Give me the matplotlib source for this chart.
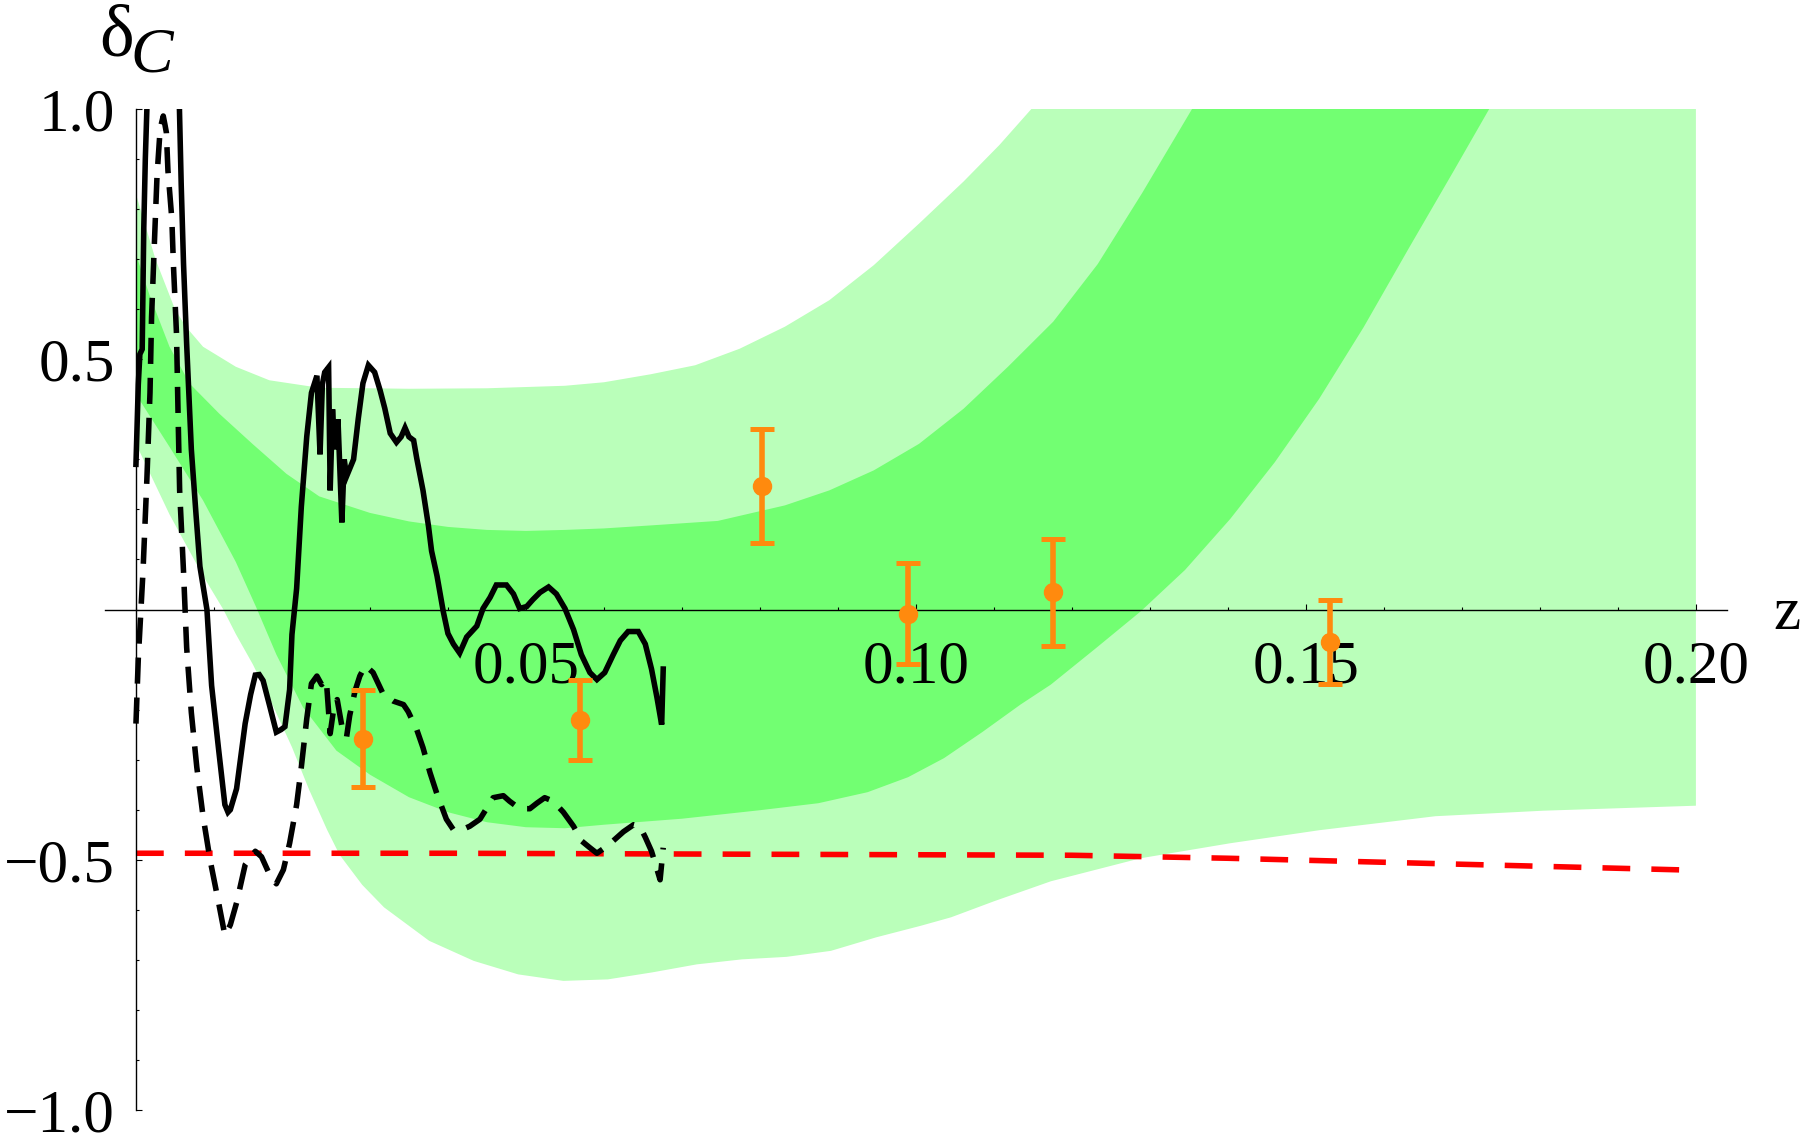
import matplotlib
matplotlib.use('Agg')
from matplotlib import pyplot as plt
from matplotlib.ticker import FixedLocator, FixedFormatter, MultipleLocator
import numpy as np

plt.rcParams['font.family'] = ['Liberation Serif', 'DejaVu Serif']

# confidence bands: each edge has its own z samples
z_outer_up = [0.0, 0.0025, 0.005, 0.0064, 0.0086, 0.0128, 0.0171, 0.0235, 0.03, 0.035,
              0.045, 0.055, 0.06, 0.066, 0.0717, 0.0774, 0.0832, 0.0889, 0.0946, 0.1004,
              0.1061, 0.1107, 0.1148, 0.2]
outer_up = [0.83, 0.70, 0.60, 0.565, 0.525, 0.485, 0.458, 0.443, 0.442, 0.441,
            0.442, 0.447, 0.454, 0.47, 0.488, 0.521, 0.565, 0.618, 0.688, 0.771,
            0.855, 0.928, 1.0, 1.0]

z_outer_lo = [0.0, 0.0043, 0.0085, 0.0112, 0.0128, 0.015, 0.0175, 0.02, 0.0222, 0.0245,
              0.0261, 0.029, 0.0318, 0.0376, 0.0433, 0.049, 0.0548, 0.0605, 0.0662, 0.0719,
              0.0777, 0.0834, 0.0891, 0.0949, 0.1006, 0.1045, 0.11, 0.1173, 0.1288, 0.1403,
              0.1517, 0.1666, 0.1804, 0.2]
outer_lo = [0.331, 0.19, 0.07, 0.0, -0.049, -0.11, -0.19, -0.275, -0.36, -0.44,
            -0.49, -0.55, -0.595, -0.662, -0.702, -0.729, -0.742, -0.739, -0.725, -0.709,
            -0.699, -0.694, -0.682, -0.655, -0.632, -0.615, -0.583, -0.543, -0.497, -0.467,
            -0.441, -0.413, -0.402, -0.392]

z_inner_up = [0.0, 0.0017, 0.0043, 0.0069, 0.0107, 0.015, 0.0193, 0.0235, 0.03, 0.035,
              0.04, 0.045, 0.05, 0.055, 0.06, 0.066, 0.0746, 0.0832, 0.0889, 0.0946,
              0.1004, 0.1061, 0.1118, 0.1176, 0.1233, 0.129, 0.1354]
inner_up = [0.71, 0.63, 0.525, 0.451, 0.391, 0.33, 0.271, 0.226, 0.193, 0.176,
            0.165, 0.159, 0.157, 0.159, 0.162, 0.168, 0.177, 0.208, 0.238, 0.278,
            0.331, 0.401, 0.485, 0.575, 0.69, 0.832, 1.0]

z_inner_lo = [0.0, 0.0043, 0.0086, 0.0128, 0.0154, 0.018, 0.0214, 0.0257, 0.03, 0.035,
              0.04, 0.045, 0.05, 0.055, 0.06, 0.07, 0.08, 0.0875, 0.0938, 0.099,
              0.1036, 0.1085, 0.1134, 0.1173, 0.1231, 0.1288, 0.1345, 0.1403, 0.146, 0.1517,
              0.1574, 0.1632, 0.1689, 0.1735]
inner_lo = [0.43, 0.325, 0.218, 0.095, 0.005, -0.09, -0.195, -0.282, -0.33, -0.375,
            -0.405, -0.425, -0.435, -0.437, -0.43, -0.418, -0.401, -0.387, -0.365, -0.335,
            -0.297, -0.245, -0.19, -0.15, -0.077, -0.004, 0.079, 0.181, 0.294, 0.421,
            0.564, 0.722, 0.875, 1.0]

# solid black curve
z_solid = [0.0, 0.0003, 0.0005, 0.0008, 0.0010, 0.0012, 0.0015, 0.0055, 0.0058, 0.0061,
           0.0065, 0.0071, 0.0077, 0.0082, 0.0091, 0.0097, 0.0106, 0.0114, 0.0118, 0.0121,
           0.0129, 0.0140, 0.0147, 0.0153, 0.0158, 0.0163, 0.0172, 0.0180, 0.0186, 0.0191,
           0.0197, 0.0200, 0.0206, 0.0212, 0.0219, 0.0225, 0.0232, 0.0236, 0.0239, 0.0242,
           0.0247, 0.0249, 0.0252, 0.0255, 0.0259, 0.0264, 0.0267, 0.0270, 0.0279, 0.0285,
           0.0291, 0.0298, 0.0306, 0.0313, 0.0319, 0.0326, 0.0334, 0.0340, 0.0345, 0.0350,
           0.0356, 0.0360, 0.0368, 0.0375, 0.0379, 0.0386, 0.0394, 0.0400, 0.0407, 0.0415,
           0.0424, 0.0437, 0.0445, 0.0454, 0.0462, 0.0475, 0.0484, 0.0492, 0.0501, 0.0509,
           0.0518, 0.0529, 0.0539, 0.0550, 0.0561, 0.0571, 0.0582, 0.0591, 0.0601, 0.0612,
           0.0621, 0.0631, 0.0644, 0.0653, 0.0661, 0.0668, 0.0674, 0.0676]
d_solid = [0.29, 0.45, 0.51, 0.52, 0.76, 0.90, 1.05, 1.05, 0.85, 0.69,
           0.53, 0.32, 0.19, 0.086, 0.0, -0.152, -0.28, -0.39, -0.405, -0.40,
           -0.358, -0.228, -0.17, -0.131, -0.13, -0.142, -0.196, -0.245, -0.24, -0.234,
           -0.16, -0.05, 0.042, 0.205, 0.346, 0.433, 0.467, 0.31, 0.45, 0.474,
           0.484, 0.238, 0.40, 0.32, 0.38, 0.174, 0.30, 0.266, 0.30, 0.381,
           0.452, 0.488, 0.474, 0.438, 0.402, 0.352, 0.334, 0.345, 0.363, 0.345,
           0.338, 0.302, 0.238, 0.167, 0.117, 0.067, -0.004, -0.048, -0.069, -0.087,
           -0.055, -0.033, 0.002, 0.024, 0.049, 0.049, 0.031, 0.002, 0.006, 0.02,
           0.034, 0.045, 0.031, 0.002, -0.04, -0.09, -0.126, -0.14, -0.126, -0.09,
           -0.062, -0.044, -0.044, -0.069, -0.119, -0.176, -0.23, -0.119]

# dashed black curve
z_dash = [0.0, 0.0003, 0.0009, 0.0014, 0.0018, 0.0020, 0.0024, 0.0027, 0.0031, 0.0035,
          0.0037, 0.0039, 0.0041, 0.0046, 0.0048, 0.0052, 0.0054, 0.0056, 0.0061, 0.0065,
          0.0071, 0.0078, 0.0086, 0.0095, 0.0106, 0.0114, 0.0121, 0.0129, 0.0140, 0.0153,
          0.0161, 0.0172, 0.0180, 0.0189, 0.0197, 0.0206, 0.0212, 0.0219, 0.0225, 0.0232,
          0.0238, 0.0244, 0.0249, 0.0253, 0.0258, 0.0264, 0.0270, 0.0274, 0.0281, 0.0287,
          0.0294, 0.0304, 0.0317, 0.0330, 0.0343, 0.0349, 0.0360, 0.0368, 0.0377, 0.0386,
          0.0398, 0.0407, 0.0418, 0.0428, 0.0441, 0.0458, 0.0471, 0.0479, 0.0492, 0.0505,
          0.0514, 0.0524, 0.0535, 0.0548, 0.0561, 0.0571, 0.0582, 0.0591, 0.0601, 0.0612,
          0.0625, 0.0638, 0.0646, 0.0653, 0.0661, 0.0668, 0.0672, 0.0676]
d_dash = [-0.228, -0.098, 0.075, 0.26, 0.433, 0.584, 0.747, 0.866, 0.96, 0.986,
          0.97, 0.953, 0.877, 0.78, 0.69, 0.55, 0.39, 0.238, 0.075, -0.076,
          -0.206, -0.315, -0.413, -0.50, -0.586, -0.651, -0.63, -0.586, -0.51, -0.483,
          -0.494, -0.532, -0.548, -0.52, -0.467, -0.39, -0.315, -0.218, -0.148, -0.133,
          -0.15, -0.14, -0.248, -0.204, -0.18, -0.233, -0.255, -0.212, -0.162, -0.133,
          -0.112, -0.126, -0.169, -0.183, -0.19, -0.204, -0.24, -0.276, -0.326, -0.369,
          -0.419, -0.44, -0.44, -0.433, -0.419, -0.376, -0.372, -0.383, -0.398, -0.398,
          -0.387, -0.376, -0.383, -0.405, -0.433, -0.462, -0.476, -0.487, -0.476, -0.462,
          -0.444, -0.43, -0.433, -0.455, -0.483, -0.519, -0.54, -0.476]

# red dashed reference curve
z_red = [0.0, 0.02, 0.04, 0.06, 0.08, 0.1, 0.12, 0.14, 0.16, 0.18, 0.2]
d_red = [-0.487, -0.487, -0.487, -0.488, -0.489, -0.490, -0.491, -0.497, -0.505, -0.513, -0.521]

# data points with error bars
z_pts = [0.0291, 0.0569, 0.0803, 0.0990, 0.1176, 0.1531]
d_pts = [-0.258, -0.221, 0.246, -0.008, 0.034, -0.065]
d_err = [0.097, 0.080, 0.114, 0.100, 0.107, 0.083]

light_green = '#BAFFBA'
dark_green = '#72FF72'
orange = '#FF8A0E'

fig = plt.figure(figsize=(18, 11.46), dpi=100)
ax = fig.add_axes([0.0582, 0.0314, 0.9013, 0.8735])

ax.fill(z_outer_up + z_outer_lo[::-1], outer_up + outer_lo[::-1],
        color=light_green, lw=0, zorder=1)
ax.fill(z_inner_up + z_inner_lo[::-1], inner_up + inner_lo[::-1],
        color=dark_green, lw=0, zorder=1.1)

ax.plot(z_red, d_red, color='#FF0000', lw=4, dashes=(5.0, 3.8), zorder=2)
ax.plot(z_solid, d_solid, color='black', lw=4, solid_joinstyle='miter', zorder=3)
ax.plot(z_dash, d_dash, color='black', lw=4, dashes=(4.7, 2.5), zorder=3)
ax.errorbar(z_pts, d_pts, yerr=d_err, fmt='o', color=orange, ms=13,
            elinewidth=4, capsize=8.6, capthick=3.6, zorder=4)

ax.set_xlim(-0.004, 0.204)
ax.set_ylim(-1, 1)

for side in ['top', 'right']:
    ax.spines[side].set_visible(False)
ax.spines['left'].set_position(('data', 0))
ax.spines['bottom'].set_position(('data', 0))
ax.spines['left'].set_linewidth(1.0)
ax.spines['bottom'].set_linewidth(1.0)

ax.xaxis.set_major_locator(FixedLocator([0.05, 0.1, 0.15, 0.2]))
ax.xaxis.set_major_formatter(FixedFormatter(['0.05', '0.10', '0.15', '0.20']))
ax.xaxis.set_minor_locator(MultipleLocator(0.01))
ax.yaxis.set_major_locator(FixedLocator([-1.0, -0.5, 0.5, 1.0]))
ax.yaxis.set_major_formatter(FixedFormatter(['\u22121.0', '\u22120.5', '0.5', '1.0']))
ax.yaxis.set_minor_locator(MultipleLocator(0.1))

ax.tick_params(which='both', direction='in', width=0.8, labelsize=44)
ax.tick_params(which='major', length=4.5)
ax.tick_params(which='minor', length=2.2)
ax.tick_params(axis='x', pad=22)
ax.tick_params(axis='y', pad=15)

fig.text(99 / 1800, 1 - 55.5 / 1146, '\u03b4', fontsize=53, va='baseline', ha='left')
fig.text(130 / 1800, 1 - 71 / 1146, 'C', fontsize=46, style='italic', va='baseline', ha='left')
fig.text(1773 / 1800, 1 - 629 / 1146, 'z', fontsize=44, va='baseline', ha='left')

fig.savefig('out.png', dpi=100)
